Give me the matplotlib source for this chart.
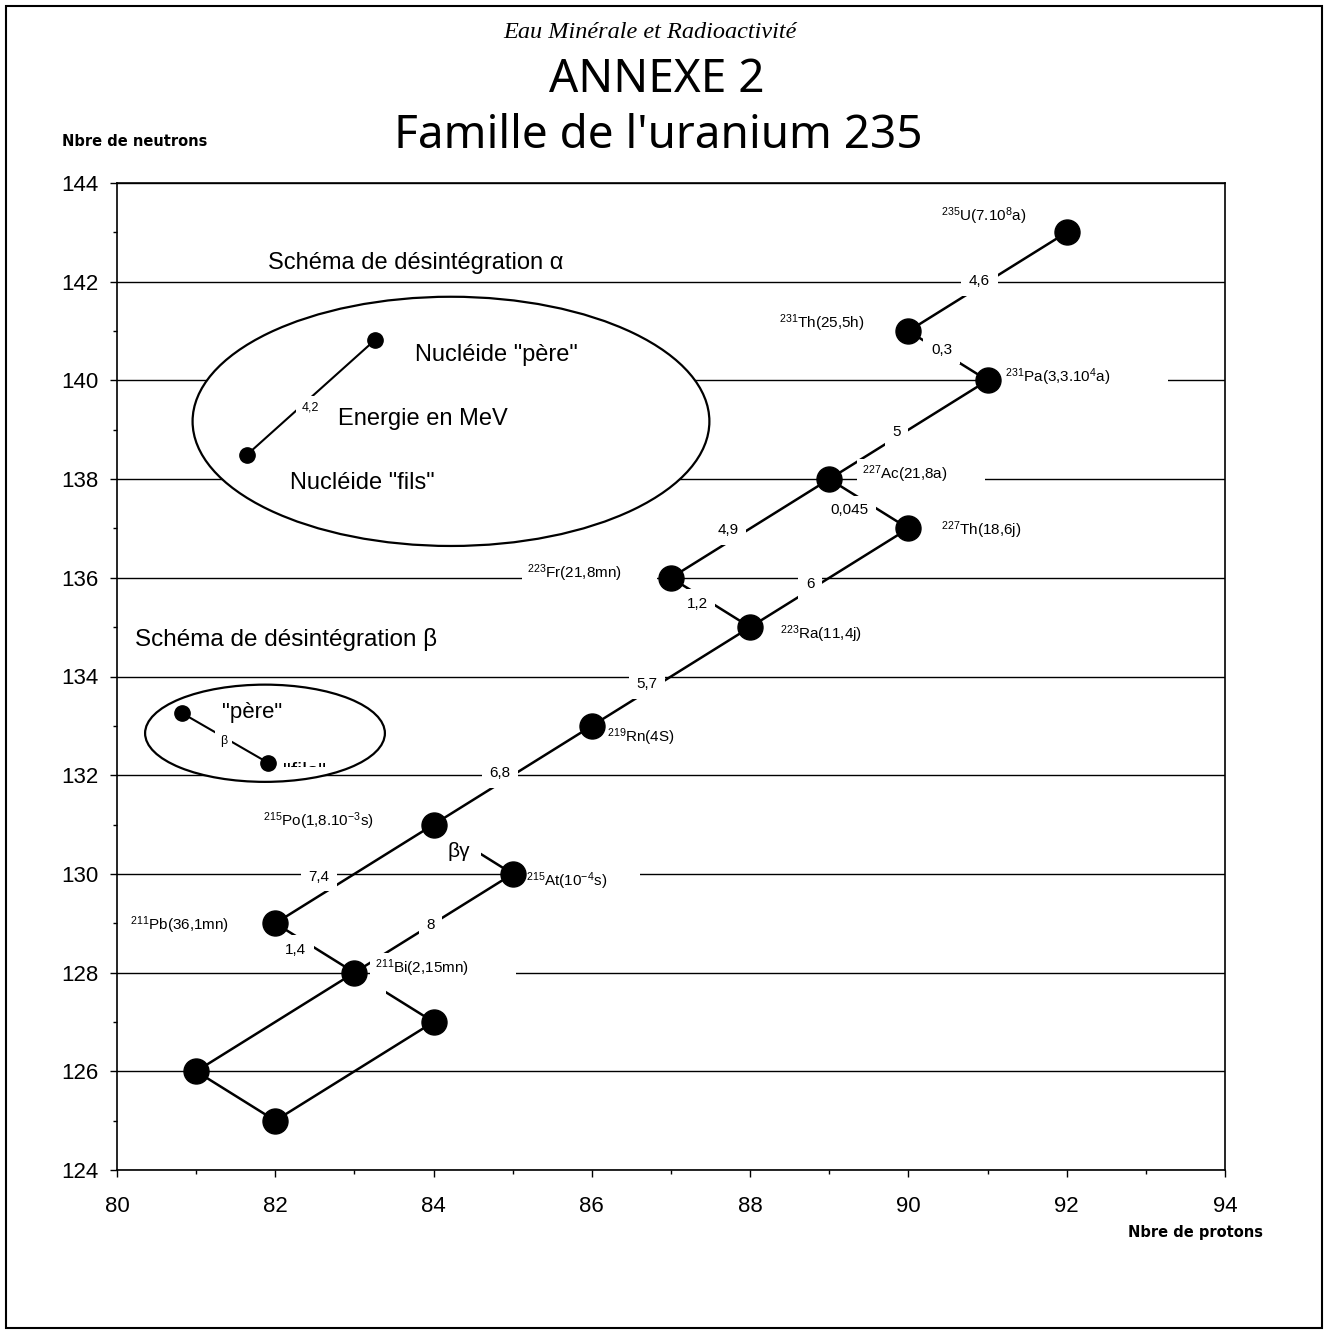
import matplotlib
matplotlib.use("Agg")
import matplotlib.pyplot as plt
from matplotlib.patches import Ellipse, Rectangle
from matplotlib.transforms import Bbox, TransformedBbox

plt.rcParams['font.family'] = ['Liberation Sans', 'DejaVu Sans']
plt.rcParams['mathtext.fontset'] = 'custom'
plt.rcParams['mathtext.rm'] = 'Liberation Sans'
plt.rcParams['mathtext.it'] = 'Liberation Sans:italic'
plt.rcParams['mathtext.default'] = 'regular'

# nuclides of the U-235 chain: name, protons (Z), neutrons (N)
names = ['U235', 'Th231', 'Pa231', 'Ac227', 'Th227', 'Fr223', 'Ra223', 'Rn219',
         'Po215', 'At215', 'Pb211', 'Bi211', 'Po211', 'Tl207', 'Pb207']
protons = [92, 90, 91, 89, 90, 87, 88, 86, 84, 85, 82, 83, 84, 81, 82]
neutrons = [143, 141, 140, 138, 137, 136, 135, 133, 131, 130, 129, 128, 127, 126, 125]

# half-life labels: text, left x, y
nuc_text = {
    'U235': r'$^{235}$U(7.10$^{8}$a)',
    'Th231': r'$^{231}$Th(25,5h)',
    'Pa231': r'$^{231}$Pa(3,3.10$^{4}$a)',
    'Ac227': r'$^{227}$Ac(21,8a)',
    'Th227': r'$^{227}$Th(18,6j)',
    'Fr223': r'$^{223}$Fr(21,8mn)',
    'Ra223': r'$^{223}$Ra(11,4j)',
    'Rn219': r'$^{219}$Rn(4S)',
    'Po215': r'$^{215}$Po(1,8.10$^{-3}$s)',
    'At215': r'$^{215}$At(10$^{-4}$s)',
    'Pb211': r'$^{211}$Pb(36,1mn)',
    'Bi211': r'$^{211}$Bi(2,15mn)',
}
nuc_tx = {'U235': 90.41, 'Th231': 88.37, 'Pa231': 91.22, 'Ac227': 89.41, 'Th227': 90.41,
          'Fr223': 85.18, 'Ra223': 88.38, 'Rn219': 86.19, 'Po215': 81.84, 'At215': 85.17,
          'Pb211': 80.16, 'Bi211': 83.26}
nuc_ty = {'U235': 143.33, 'Th231': 141.16, 'Pa231': 140.07, 'Ac227': 138.10, 'Th227': 136.97,
          'Fr223': 136.10, 'Ra223': 134.86, 'Rn219': 132.77, 'Po215': 131.07, 'At215': 129.86,
          'Pb211': 128.96, 'Bi211': 128.09}
# text boxes that run on past the end of the text (pixels)
nuc_pad = {'Pa231': 52, 'Ac227': 33, 'At215': 28, 'Bi211': 42, 'Fr223': 30}

# decays: parent -> daughter, energy in MeV and where the value is written
decay_from = ['U235', 'Th231', 'Pa231', 'Ac227', 'Ac227', 'Th227', 'Fr223', 'Ra223',
              'Rn219', 'Po215', 'Po215', 'At215', 'Pb211', 'Bi211', 'Bi211', 'Tl207', 'Po211']
decay_to = ['Th231', 'Pa231', 'Ac227', 'Th227', 'Fr223', 'Ra223', 'Ra223', 'Rn219',
            'Po215', 'At215', 'Pb211', 'Bi211', 'Bi211', 'Po211', 'Tl207', 'Pb207', 'Pb207']
energy = ['4,6', '0,3', '5', '0,045', '4,9', '6', '1,2', '5,7',
          '6,8', 'βγ', '7,4', '8', '1,4', '', '', '', '']
energy_x = [90.90, 90.42, 89.85, 89.25, 87.72, 88.76, 87.33, 86.70,
            84.84, 84.32, 82.55, 83.96, 82.26, None, None, None, None]
energy_y = [142.01, 140.62, 138.95, 137.37, 136.97, 135.87, 135.47, 133.85,
            132.04, 130.46, 129.94, 128.96, 128.46, None, None, None, None]

pos = {n: (z, nn) for n, z, nn in zip(names, protons, neutrons)}

fig = plt.figure(figsize=(13.28, 13.34), dpi=100)
ax = fig.add_axes([117 / 1328, 1 - 1170 / 1334, (1225 - 117) / 1328, (1170 - 183) / 1334])

ax.set_xlim(80, 94)
ax.set_ylim(124, 144)
ax.set_xticks(range(80, 95, 2))
ax.set_xticks(range(81, 94, 2), minor=True)
ax.set_yticks(range(124, 145, 2))
ax.set_yticks(range(125, 144, 2), minor=True)
ax.tick_params(which='major', direction='out', length=5, width=1, labelsize=16)
ax.tick_params(axis='x', which='major', pad=14)
ax.tick_params(axis='y', which='major', pad=8)
ax.tick_params(which='minor', direction='out', length=3, width=1)
for s in ax.spines.values():
    s.set_linewidth(1.2)
ax.set_axisbelow(True)
ax.yaxis.grid(True, color='black', lw=1.0)

# decay segments
for a, b in zip(decay_from, decay_to):
    ax.plot([pos[a][0], pos[b][0]], [pos[a][1], pos[b][1]], color='black', lw=1.8, zorder=2,
            solid_capstyle='butt')

# energy values on white boxes
for e, x, y in zip(energy, energy_x, energy_y):
    if not e:
        continue
    fs = 15 if e == 'βγ' else 11
    ax.text(x, y, e, ha='center', va='center', fontsize=fs, zorder=3,
            bbox=dict(boxstyle='square,pad=0.5', fc='white', ec='none'))

# nuclides
ax.plot(protons, neutrons, 'o', color='black', ms=18, zorder=5, ls='none')

# texts whose white box is wider than the text: (artist, left px, right px)
wide_boxes = []
for n, t in nuc_text.items():
    txt = ax.text(nuc_tx[n], nuc_ty[n], t, ha='left', va='center', fontsize=11, zorder=3.5)
    wide_boxes.append((txt, 5, 5 + nuc_pad.get(n, 4)))

# alpha scheme
txt = ax.text(81.91, 142.38, 'Schéma de désintégration α', ha='left', va='center',
              fontsize=17, zorder=3.5)
wide_boxes.append((txt, 33, 84))
ax.add_patch(Ellipse((84.22, 139.17), 6.53, 5.05, fc='white', ec='black', lw=1.6, zorder=1))
ax.plot([83.26, 81.64], [140.82, 138.49], color='black', lw=1.5, zorder=2)
ax.plot([83.26, 81.64], [140.82, 138.49], 'o', color='black', ms=11, zorder=5)
ax.text(82.44, 139.46, '4,2', ha='center', va='center', fontsize=9, zorder=3,
        bbox=dict(boxstyle='square,pad=0.4', fc='white', ec='none'))
ax.text(83.77, 140.51, 'Nucléide "père"', ha='left', va='center', fontsize=17, zorder=3)
ax.text(82.79, 139.22, 'Energie en MeV', ha='left', va='center', fontsize=17, zorder=3)
ax.text(82.19, 137.92, 'Nucléide "fils"', ha='left', va='center', fontsize=17, zorder=3)

# beta scheme
ax.text(80.23, 134.74, 'Schéma de désintégration β', ha='left', va='center', fontsize=17.5, zorder=3)
ax.add_patch(Ellipse((81.87, 132.85), 3.03, 1.97, fc='white', ec='black', lw=1.6, zorder=1))
ax.plot([80.82, 81.91], [133.26, 132.25], color='black', lw=1.5, zorder=2)
ax.plot([80.82, 81.91], [133.26, 132.25], 'o', color='black', ms=11, zorder=5)
ax.text(81.35, 132.70, 'β', ha='center', va='center', fontsize=9, zorder=3,
        bbox=dict(boxstyle='square,pad=0.4', fc='white', ec='none'))
ax.text(81.33, 133.28, '"père"', ha='left', va='center', fontsize=16, zorder=3)
fils = ax.text(82.10, 132.05, '"fils"', ha='left', va='center', fontsize=16, zorder=3, clip_on=True)
fils.set_clip_box(TransformedBbox(Bbox([[80, 132.16], [94, 140]]), ax.transData))

# page titles
fig.text(650 / 1328, 1 - 33 / 1334, 'Eau Minérale et Radioactivité', ha='center', va='center',
         fontsize=17.5, family='Liberation Serif', style='italic')
fig.text(657 / 1328, 1 - 80 / 1334, 'ANNEXE 2', ha='center', va='center',
         fontsize=33, family='Noto Sans')
fig.text(658 / 1328, 1 - 136 / 1334, "Famille de l'uranium 235", ha='center', va='center',
         fontsize=33, family='Noto Sans')
fig.text(62 / 1328, 1 - 141 / 1334, 'Nbre de neutrons', ha='left', va='center',
         fontsize=10.5, fontweight='bold', family='DejaVu Sans')
fig.text(1263 / 1328, 1 - 1232 / 1334, 'Nbre de protons', ha='right', va='center',
         fontsize=10.5, fontweight='bold', family='DejaVu Sans')

# page frame
fig.patches.append(Rectangle((6 / 1328, 6 / 1334), 1316 / 1328, 1322 / 1334, transform=fig.transFigure,
                             fill=False, ec='black', lw=1.5))

# white boxes behind the wide labels, sized from the rendered text
fig.canvas.draw()
renderer = fig.canvas.get_renderer()
to_fig = fig.transFigure.inverted()
for txt, left, right in wide_boxes:
    bb = txt.get_window_extent(renderer)
    (x0, y0), (x1, y1) = to_fig.transform([[bb.x0 - left, bb.y0 - 4], [bb.x1 + right, bb.y1 + 4]])
    ax.add_patch(Rectangle((x0, y0), x1 - x0, y1 - y0, transform=fig.transFigure,
                           fc='white', ec='none', zorder=3, clip_on=False))

# the Bi -> Po segment also passes under a small white box
bx, by = ax.transData.transform((83.22, 127.68))
(x0, y0), (x1, y1) = to_fig.transform([[bx - 14, by - 10], [bx + 14, by + 10]])
ax.add_patch(Rectangle((x0, y0), x1 - x0, y1 - y0, transform=fig.transFigure,
                       fc='white', ec='none', zorder=3, clip_on=False))

fig.savefig('out.png', dpi=100, facecolor='white')
